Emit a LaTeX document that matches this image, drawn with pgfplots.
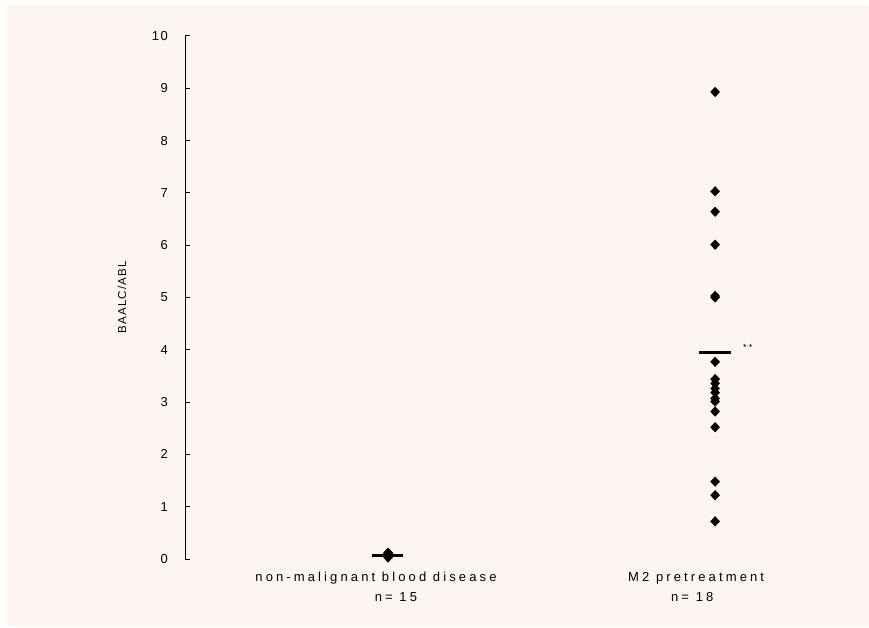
\documentclass[border=0pt]{standalone}
\usepackage{pgfplots}
\pgfplotsset{compat=1.18}
\usepackage{fontspec}
\setmainfont{Liberation Sans}
\newfontfamily\spfont[LetterSpace=24]{Liberation Sans}
\newfontfamily\tkfont[LetterSpace=12]{Liberation Sans}
\newfontfamily\ylfont[LetterSpace=10]{Liberation Sans}
\definecolor{bg}{RGB}{252,245,242}
\begin{document}
\begin{tikzpicture}[x=1pt,y=1pt]
\fill[white] (0,0) rectangle (869,627);
\fill[bg] (7,0) rectangle (869,622);
\begin{axis}[
  at={(185pt,68pt)}, anchor=south west,
  scale only axis, width=595.5pt, height=523pt,
  xmin=-0.621, xmax=1.2, ymin=0, ymax=10,
  clip=false,
  axis x line=none, axis y line=left,
  y axis line style={-, line width=1pt, black},
  ytick={0,1,...,10},
  tick align=inside, major tick length=5pt,
  ytick style={line width=1pt, black},
  /pgf/number format/assume math mode=true,
  yticklabel style={font=\fontsize{13}{15}\tkfont, xshift=-13.5pt},
  ylabel={BAALC/ABL},
  ylabel style={font=\fontsize{11.5}{13}\ylfont, at={(axis description cs:-0.1058,0.5)}, anchor=center},
]
\addplot[only marks, mark=diamond*, mark size=4.8pt, mark options={xscale=1.25, fill=black, draw=black}, black]
  coordinates {(0,0.03) (0,0.05) (0,0.06) (0,0.07) (0,0.07) (0,0.08) (0,0.08) (0,0.09) (0,0.10) (0,0.11) (0,0.06) (0,0.07) (0,0.09) (0,0.05) (0,0.12)};
\addplot[only marks, mark=diamond*, mark size=4.8pt, mark options={xscale=1.25, fill=black, draw=black}, black]
  coordinates {(1,8.93) (1,7.03) (1,6.64) (1,6.01) (1,5.00) (1,5.03) (1,3.77) (1,3.44) (1,3.36) (1,3.26) (1,3.18) (1,3.07) (1,3.01) (1,2.82) (1,2.52) (1,1.48) (1,1.22) (1,0.72)};
\addplot[black, line width=2.5pt, no marks] coordinates {(-0.05,0.07) (0.046,0.07)};
\addplot[black, line width=3.5pt, no marks] coordinates {(0.95,3.95) (1.049,3.95)};
\node[font=\fontsize{9}{10}\spfont] at (axis cs:1.10,4.04) {**};
\node[font=\fontsize{13}{15}\spfont] at (axis cs:-0.037,-0.363) {non-malignant blood disease};
\node[font=\fontsize{13}{15}\spfont] at (axis cs:0.024,-0.727) {n= 15};
\node[font=\fontsize{13}{15}\spfont] at (axis cs:0.942,-0.363) {M2 pretreatment};
\node[font=\fontsize{13}{15}\spfont] at (axis cs:0.930,-0.727) {n= 18};
\end{axis}
\end{tikzpicture}
\end{document}
